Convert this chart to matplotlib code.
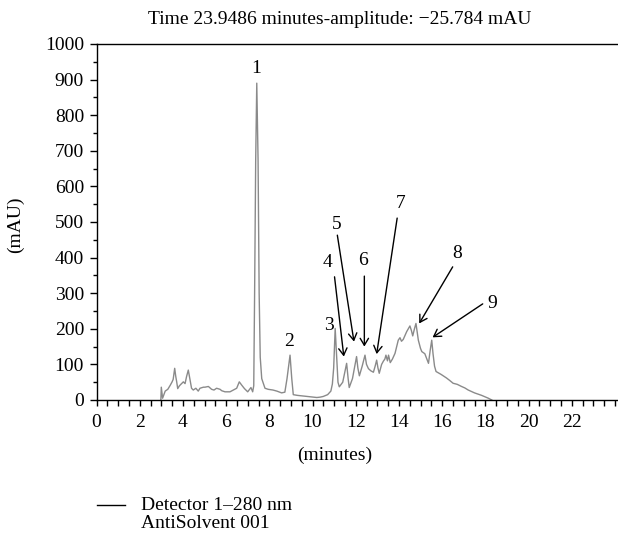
import matplotlib
matplotlib.use("Agg")
import matplotlib.pyplot as plt
from matplotlib.lines import Line2D
from matplotlib.ticker import MultipleLocator, FixedLocator

plt.rcParams['font.family'] = ['Liberation Serif', 'DejaVu Serif']

# Chromatogram trace (minutes, mAU)
times = [2.98, 3.00, 3.06, 3.18, 3.30, 3.41, 3.50, 3.55, 3.62, 3.67, 3.71, 3.76,
         3.84, 3.94, 4.02, 4.10, 4.17, 4.25, 4.33, 4.40, 4.48, 4.60, 4.71, 4.79,
         4.95, 5.02, 5.18, 5.33, 5.44, 5.56, 5.72, 5.80, 5.95, 6.18, 6.49, 6.61,
         6.72, 6.85, 7.00, 7.15, 7.23, 7.28, 7.32, 7.37, 7.42, 7.48, 7.53, 7.58,
         7.65, 7.80, 7.95, 8.17, 8.35, 8.57, 8.72, 8.82, 8.96, 9.04, 9.11, 9.30,
         9.60, 9.90, 10.20, 10.35, 10.50, 10.70, 10.85, 10.92, 10.98, 11.05, 11.12,
         11.18, 11.24, 11.40, 11.50, 11.58, 11.65, 11.70, 11.85, 12.04, 12.10,
         12.17, 12.30, 12.43, 12.50, 12.59, 12.70, 12.82, 12.90, 12.97, 13.03,
         13.09, 13.20, 13.28, 13.35, 13.40, 13.47, 13.52, 13.60, 13.70, 13.82,
         13.97, 14.05, 14.12, 14.20, 14.36, 14.51, 14.58, 14.64, 14.72, 14.79,
         14.85, 14.90, 15.00, 15.06, 15.20, 15.37, 15.45, 15.52, 15.58, 15.65,
         15.72, 15.95, 16.20, 16.35, 16.51, 16.70, 16.90, 17.05, 17.21, 17.50,
         17.83, 18.14, 18.30]
values = [0, 36, 5, 25, 30, 41, 51, 58, 89, 66, 52, 32,
          40, 46, 51, 46, 66, 84, 57, 33, 28, 33, 25, 33,
          36, 36, 38, 30, 28, 33, 30, 26, 23, 23, 33, 51,
          42, 32, 23, 35, 23, 40, 300, 674, 890, 674, 300, 120,
          60, 33, 30, 28, 25, 20, 22, 60, 126, 60, 15, 13,
          11, 9, 7, 8, 10, 15, 25, 45, 90, 201, 120,
          50, 37, 50, 80, 103, 60, 35, 60, 122, 90,
          68, 95, 126, 100, 88, 82, 78, 95, 112, 90,
          75, 100, 109, 115, 126, 110, 126, 105, 115, 131,
          168, 175, 165, 170, 192, 208, 195, 180, 200, 215,
          190, 168, 145, 136, 130, 103, 140, 168, 130, 95,
          80, 72, 62, 55, 47, 44, 38, 34, 28, 20,
          13, 5, 0]

x_tick_labels = [0, 2, 4, 6, 8, 10, 12, 14, 16, 18, 20, 22]

# Peak labels: text, label position, arrow start, arrow end (None = no arrow)
peak_labels = ["1", "2", "3", "4", "5", "6", "7", "8", "9"]
label_pos = [(7.38, 930), (8.90, 164), (10.75, 208), (10.68, 386), (11.12, 492),
             (12.35, 393), (14.06, 553), (16.68, 412), (18.30, 272)]
arrow_from = [None, None, None, (11.02, 346), (11.15, 463), (12.40, 348),
              (13.92, 511), (16.49, 374), (17.88, 270)]
arrow_to = [None, None, None, (11.45, 122), (11.92, 164), (12.40, 150),
            (12.97, 129), (14.94, 215), (15.56, 176)]

title = "Time 23.9486 minutes-amplitude: \u221225.784 mAU"
xlabel = "(minutes)"
ylabel = "(mAU)"
legend_lines = ["Detector 1\u2013280 nm", "AntiSolvent 001"]

FS = 14
W, H = 618, 534
fig = plt.figure(figsize=(W / 100, H / 100), dpi=100)
ax = fig.add_axes([96.5 / W, (H - 400) / H, (W - 96.5) / W, 356 / H])

ax.plot(times, values, color="#8a8a8a", lw=1.0)
ax.set_xlim(0, (W - 96.5) / 21.6)
ax.set_ylim(0, 1000)

ax.xaxis.set_major_locator(FixedLocator(x_tick_labels))
ax.xaxis.set_minor_locator(MultipleLocator(0.5))
ax.yaxis.set_major_locator(MultipleLocator(100))
ax.yaxis.set_minor_locator(MultipleLocator(50))
ax.tick_params(axis="x", which="both", direction="out", length=4, width=1,
               labelsize=FS, pad=6)
ax.tick_params(axis="y", which="major", direction="out", length=5, width=1,
               labelsize=FS, pad=4)
ax.tick_params(axis="y", which="minor", direction="out", length=3, width=1)
ax.spines["right"].set_visible(False)
for s in ["left", "bottom", "top"]:
    ax.spines[s].set_linewidth(1.0)

for lab, pos, a0, a1 in zip(peak_labels, label_pos, arrow_from, arrow_to):
    ax.text(pos[0], pos[1], lab, ha="center", va="center", fontsize=FS)
    if a0 is not None:
        ax.annotate("", xy=a1, xytext=a0,
                    arrowprops=dict(arrowstyle="->,head_length=0.5,head_width=0.3",
                                    color="black", lw=1.0, shrinkA=0, shrinkB=0))

fig.text(340 / W, 1 - 20 / H, title, ha="center", va="center", fontsize=FS)
fig.text(335 / W, 1 - 455 / H, xlabel, ha="center", va="center", fontsize=FS)
fig.text(15 / W, 1 - 225 / H, ylabel, ha="center", va="center", fontsize=FS,
         rotation=90)

fig.add_artist(Line2D([97 / W, 125 / W], [1 - 505 / H, 1 - 505 / H],
                      color="black", lw=1.0))
fig.text(141 / W, 1 - 505 / H, legend_lines[0], ha="left", va="center", fontsize=FS)
fig.text(141 / W, 1 - 524 / H, legend_lines[1], ha="left", va="center", fontsize=FS)

fig.savefig("out.png", dpi=100)
